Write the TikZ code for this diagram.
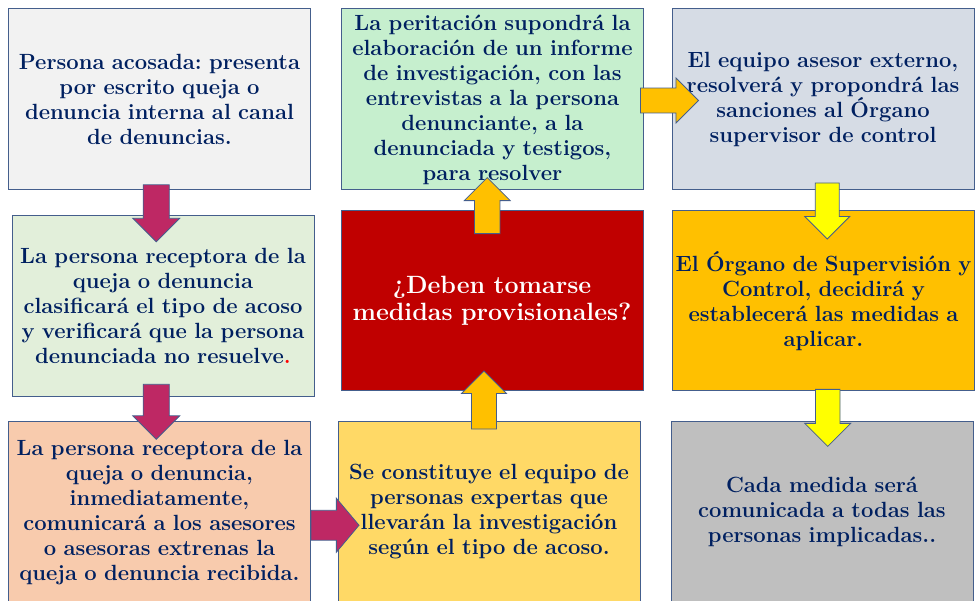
\documentclass[tikz,border=0pt]{standalone}
\usepackage{tikz}
\usetikzlibrary{calc,shapes.arrows}
\definecolor{boxline}{RGB}{68,94,140}
\definecolor{textnavy}{RGB}{0,32,96}
\definecolor{fillgray}{RGB}{242,242,242}
\definecolor{fillgreen}{RGB}{226,239,218}
\definecolor{fillpeach}{RGB}{248,203,173}
\definecolor{fillmint}{RGB}{198,239,206}
\definecolor{fillred}{RGB}{192,0,0}
\definecolor{fillyellow}{RGB}{255,217,102}
\definecolor{fillblue}{RGB}{214,220,229}
\definecolor{fillorange}{RGB}{255,192,0}
\definecolor{fillsilver}{RGB}{191,191,191}
\definecolor{arrowpink}{RGB}{190,40,100}
\definecolor{arrowyellow}{RGB}{255,255,0}
\newcommand{\boxw}{302pt}
\newcommand{\boxh}{181pt}
\frenchspacing
\tikzset{
  stepbox/.style={draw=boxline, line width=1pt, inner sep=0pt, text width=\boxw,
    minimum height=\boxh, align=center, text=textnavy,
    font=\fontsize{22}{25}\selectfont\bfseries},
  blockarrow/.style={single arrow, draw=boxline, line width=0.8pt, inner sep=12pt,
    single arrow head extend=10pt},
  pinkarrow/.style={blockarrow, fill=arrowpink},
  orangearrow/.style={blockarrow, fill=fillorange},
  yellowarrow/.style={blockarrow, fill=arrowyellow}
}

\begin{document}
\begin{tikzpicture}[x=1pt,y=-1pt]
\useasboundingbox (0,0) rectangle (975,601);
%column 1
\node[stepbox, fill=fillgray] (b1) at (159.5,99.5) {Persona acosada: presenta\\por escrito queja o\\denuncia interna al canal\\de denuncias.};
\node[stepbox, fill=fillgreen] (b2) at (163,306) {La persona receptora de la\\queja o denuncia\\clasificará el tipo de acoso\\y verificará que la persona\\denunciada no resuelve{\color{red}.}};
\node[stepbox, fill=fillpeach] (b3) at (159.5,512.5) {La persona receptora de la\\queja o denuncia,\\inmediatamente,\\comunicará a los asesores\\o asesoras extrenas la\\queja o denuncia recibida.};
%column 2
\node[stepbox, fill=fillmint] (b4) at (492.5,99.5) {La peritación supondrá la\\elaboración de un informe\\de investigación, con las\\entrevistas a la persona\\denunciante, a la\\denunciada y testigos,\\para resolver};
\node[stepbox, fill=fillred, text=white, minimum height=180pt, font=\fontsize{25}{27}\selectfont\bfseries] (b5) at (492,301) {¿Deben tomarse\\medidas provisionales?};
\node[stepbox, fill=fillyellow] (b6) at (489,512) {Se constituye el equipo de\\personas expertas que\\llevarán la investigación\\según el tipo de acoso.};
%column 3
\node[stepbox, fill=fillblue] (b7) at (823,99.5) {El equipo asesor externo,\\resolverá y propondrá las\\sanciones al Órgano\\supervisor de control};
\node[stepbox, fill=fillorange, minimum height=180pt] (b8) at (823.5,301) {El Órgano de Supervisión y\\Control, decidirá y\\establecerá las medidas a\\aplicar.};
\node[stepbox, fill=fillsilver] (b9) at (822,512) {Cada medida será\\comunicada a todas las\\personas implicadas..};
%arrows
\node[pinkarrow, shape border rotate=270, minimum height=57pt, minimum width=47pt] (a12) at ($(b1.south)!.5!(b2.north)+(-5,4)$) {};
\node[pinkarrow, shape border rotate=270, minimum height=55pt, minimum width=47pt] (a23) at ($(b2.south)!.5!(b3.north)+(-5,-4)$) {};
\node[pinkarrow, minimum height=48pt, minimum width=54pt, single arrow tip angle=100] (a36) at ($(b3.east)!.5!(b6.west)+(4.5,13)$) {};
\node[orangearrow, shape border rotate=90, minimum height=58pt, minimum width=45pt] (a65) at ($(b6.north)!.5!(b5.south)+(-6.5,0)$) {};
\node[orangearrow, shape border rotate=90, minimum height=56pt, minimum width=46pt] (a54) at ($(b5.north)!.5!(b4.south)+(-5,11.5)$) {};
\node[orangearrow, minimum height=58pt, minimum width=45pt] (a47) at ($(b4.east)!.5!(b7.west)+(5.5,1)$) {};
\node[yellowarrow, shape border rotate=270, minimum height=56pt, minimum width=45pt, inner sep=11pt] (a78) at ($(b7.south)!.5!(b8.north)+(4,4.5)$) {};
\node[yellowarrow, shape border rotate=270, minimum height=57pt, minimum width=46pt, inner sep=11pt] (a89) at ($(b8.south)!.5!(b9.north)+(5,5.5)$) {};
\end{tikzpicture}
\end{document}
